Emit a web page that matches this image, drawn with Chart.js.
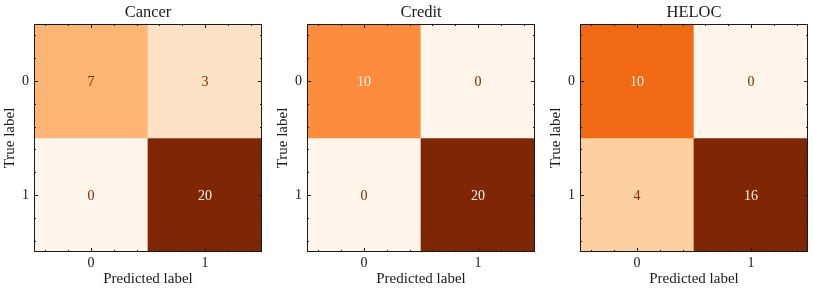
<!DOCTYPE html>
<html lang="en">
<head>
  <meta charset="UTF-8">
  <title>Confusion matrices</title>
  <script src="https://cdn.jsdelivr.net/npm/chart.js"></script>
  <style>
    body{margin:0;background:#fff;width:813px;height:292px;position:relative;overflow:hidden}
    canvas{position:absolute;top:0}
  </style>
</head>
<body>
<canvas id="cancer" width="266" height="292" style="left:0px"></canvas>
<canvas id="credit" width="266" height="292" style="left:273px"></canvas>
<canvas id="heloc"  width="266" height="292" style="left:546px"></canvas>

<script>
// data
const panelTitles     = ['Cancer','Credit','HELOC'];
const predictedLabels = ['0','1'];
const trueLabels      = [0,1];
const cancerMatrix    = [[7,3],[0,20]];
const creditMatrix    = [[10,0],[0,20]];
const helocMatrix     = [[10,0],[4,16]];
const minorTicks      = [-0.4,-0.2,0.2,0.4,0.6,0.8,1.2,1.4];

const FONT = "'Liberation Serif','Times New Roman',serif";
const INK = '#1a1a1a';

// matplotlib "Oranges"
const ORANGES = [[255,245,235],[254,230,206],[253,208,162],[253,174,107],[253,141,60],
                 [241,105,19],[217,72,1],[166,54,3],[127,39,4]];
function oranges(t){
  t=Math.max(0,Math.min(1,t));
  const s=t*(ORANGES.length-1), i=Math.min(Math.floor(s),ORANGES.length-2), f=s-i;
  const a=ORANGES[i], b=ORANGES[i+1];
  return `rgb(${a.map((v,k)=>Math.round(v+(b[k]-v)*f)).join(',')})`;
}

/* frame, inward ticks, cell values and panel title */
const decor={
  id:'decor',
  afterDatasetsDraw(chart,args,opts){
    const {ctx,chartArea:a,scales:{x,y}}=chart;
    const m=opts.matrix, flat=m.flat();
    const mx=Math.max(...flat), mn=Math.min(...flat), thresh=(mx+mn)/2;
    ctx.save();
    ctx.font=`14px ${FONT}`;
    ctx.textAlign='center'; ctx.textBaseline='middle';
    chart.data.datasets.forEach((ds,i)=>{
      chart.getDatasetMeta(i).data.forEach((bar,j)=>{
        const v=m[i][j];
        ctx.fillStyle = v<thresh ? 'rgb(127,39,4)' : 'rgb(255,245,235)';
        ctx.fillText(String(v), bar.x, (bar.y+bar.base)/2+1);
      });
    });

    // frame
    ctx.strokeStyle=INK; ctx.lineWidth=1;
    ctx.strokeRect(Math.round(a.left)+0.5,Math.round(a.top)+0.5,Math.round(a.right-a.left)-1,Math.round(a.bottom-a.top)-1);

    const tick=(vals,len,w)=>{
      ctx.lineWidth=w;
      ctx.beginPath();
      vals.forEach(v=>{
        const px=Math.round(x.getPixelForValue(v))+0.5;
        ctx.moveTo(px,a.bottom); ctx.lineTo(px,a.bottom-len);
        ctx.moveTo(px,a.top);    ctx.lineTo(px,a.top+len);
        const py=Math.round(y.getPixelForValue(v))+0.5;
        ctx.moveTo(a.left,py);  ctx.lineTo(a.left+len,py);
        ctx.moveTo(a.right,py); ctx.lineTo(a.right-len,py);
      });
      ctx.stroke();
    };
    tick(trueLabels,4,1);
    tick(minorTicks,2,1);

    // title
    ctx.fillStyle=INK;
    ctx.font=`16.5px ${FONT}`;
    ctx.textBaseline='alphabetic';
    ctx.fillText(opts.title,(a.left+a.right)/2,17);
    ctx.restore();
  }
};

function drawMatrix(id,title,matrix){
  const flat=matrix.flat();
  const mx=Math.max(...flat), mn=Math.min(...flat);
  const datasets=trueLabels.map((t,i)=>({
    label:`True ${t}`,
    data:predictedLabels.map(()=>[t-0.5,t+0.5]),
    backgroundColor:matrix[i].map(v=>oranges((v-mn)/(mx-mn))),
    borderWidth:0,
    grouped:false,
    barPercentage:1,
    categoryPercentage:1
  }));

  new Chart(document.getElementById(id),{
    type:'bar',
    data:{labels:predictedLabels,datasets},
    plugins:[decor],
    options:{
      responsive:false,
      animation:false,
      layout:{padding:{top:24,right:4,left:0,bottom:0}},
      plugins:{
        legend:{display:false},
        tooltip:{enabled:false},
        decor:{matrix,title}
      },
      scales:{
        x:{
          offset:true,
          grid:{display:false,drawTicks:false},
          border:{display:false},
          ticks:{color:INK,font:{family:FONT,size:14},padding:3},
          title:{display:true,text:'Predicted label',color:INK,font:{family:FONT,size:15},padding:{top:0,bottom:4}},
          afterFit:s=>{s.height=40;}
        },
        y:{
          type:'linear',
          min:-0.5,max:1.5,reverse:true,
          grid:{display:false,drawTicks:false},
          border:{display:false},
          afterBuildTicks:s=>{s.ticks=trueLabels.map(v=>({value:v}));},
          ticks:{color:INK,font:{family:FONT,size:14},padding:5,callback:v=>String(v)},
          title:{display:true,text:'True label',color:INK,font:{family:FONT,size:15},padding:{top:1,bottom:0}},
          afterFit:s=>{s.width=34;}
        }
      }
    }
  });
}

drawMatrix('cancer',panelTitles[0],cancerMatrix);
drawMatrix('credit',panelTitles[1],creditMatrix);
drawMatrix('heloc', panelTitles[2],helocMatrix);
</script>
</body>
</html>
